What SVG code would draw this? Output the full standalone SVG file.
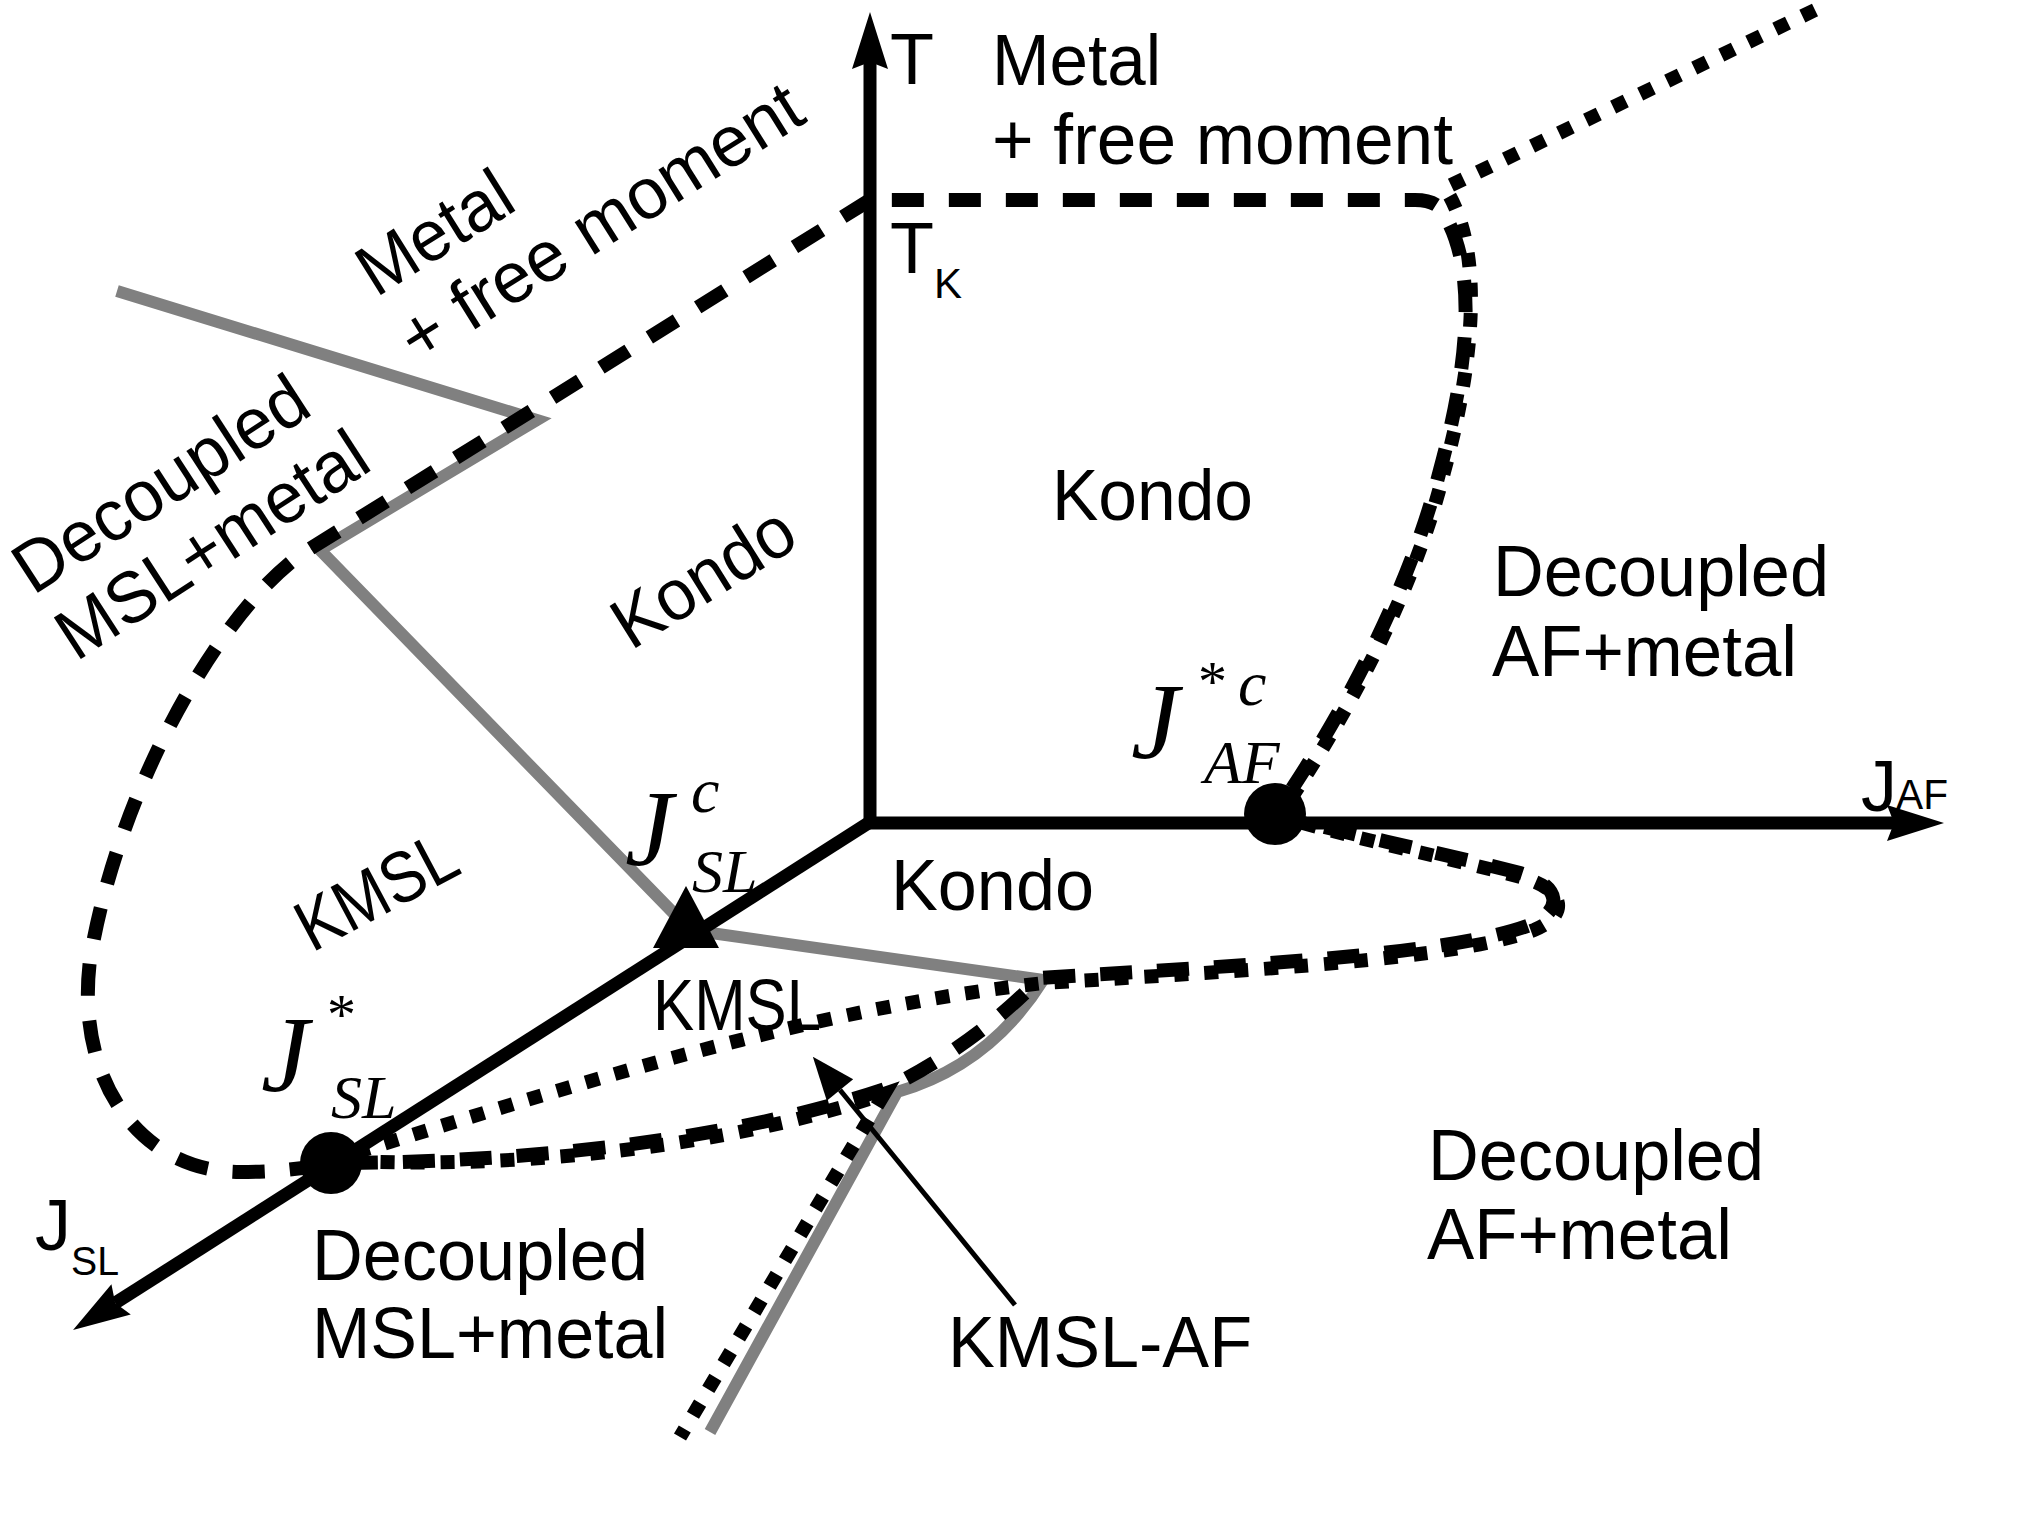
<svg xmlns="http://www.w3.org/2000/svg" width="2031" height="1523" viewBox="0 0 2031 1523">
<style>
.lbl{font-family:"Liberation Sans",Arial,sans-serif;font-size:72px;fill:#000}
.sub{font-family:"Liberation Sans",Arial,sans-serif;fill:#000}
.m{font-family:"Liberation Serif","Times New Roman",serif;font-style:italic;fill:#000}
.ast{font-family:"Liberation Serif","Times New Roman",serif;fill:#000;font-size:58px}
.axis{stroke:#000;stroke-width:13;fill:none}
.gray{stroke:#808080;stroke-width:12;fill:none;stroke-linejoin:miter}
.dash{stroke:#000;stroke-width:14;stroke-dasharray:32 25;fill:none}
.dot{stroke:#000;stroke-width:14;stroke-dasharray:14 16;fill:none}
.thin{stroke:#000;stroke-width:5;fill:none}
</style>
<defs>
<marker id="ah" viewBox="-58 -19 59 38" refX="-50" refY="0" markerWidth="59" markerHeight="38" markerUnits="userSpaceOnUse" orient="auto">
<path d="M0,0 L-57,-18 L-50,0 L-57,18 Z" fill="#000"/>
</marker>
<marker id="ah2" viewBox="-44 -18 45 36" refX="-43" refY="0" markerWidth="45" markerHeight="36" markerUnits="userSpaceOnUse" orient="auto">
<path d="M0,0 L-43,-17 L-43,17 Z" fill="#000"/>
</marker>
</defs>
<rect width="2031" height="1523" fill="#fff"/>
<g id="connectors">
<path class="gray" d="M117,291 L537,420 L320,550 L690,930 L1043,980 Q990,1065 897,1092 L710,1432"/>
<path class="dash" d="M870,200 L300,555 C218,615 118,790 90,960 C75,1080 140,1172 240,1172 C285,1172 310,1167 331,1163 C500,1163 720,1145 888,1088 Q975,1045 1040,978 C1250,965 1450,955 1530,925 C1565,910 1560,885 1520,873 C1450,855 1350,835 1275,814 C1340,720 1410,590 1440,470 C1470,360 1478,262 1440,208 Q1432,200 1415,200 Z"/>
<path class="dot" d="M1815,10 L1445,188 C1485,250 1474,362 1444,472 C1414,592 1344,722 1279,816 C1354,839 1454,859 1524,878 C1566,890 1569,916 1534,930 C1454,960 1254,970 1044,983 C800,1010 560,1090 331,1160 C500,1170 720,1150 884,1094 L680,1437"/>
<line class="axis" x1="870" y1="822" x2="870" y2="62" marker-end="url(#ah)"/>
<line class="axis" x1="864" y1="823" x2="1894" y2="823" marker-end="url(#ah)"/>
<line class="axis" x1="870" y1="822" x2="115.2" y2="1303.1" marker-end="url(#ah)"/>
<line class="thin" x1="1015" y1="1305" x2="840" y2="1090" marker-end="url(#ah2)"/>
</g>
<g id="node-JcSL-marker"><polygon points="686,886 653,948 719,948" fill="#000"/></g>
<g id="node-JstarSL-point"><circle cx="331" cy="1163" r="31" fill="#000"/></g>
<g id="node-JstarcAF-point"><circle cx="1275" cy="814" r="31" fill="#000"/></g>
<g id="label-T"><text class="lbl" x="890" y="84">T</text></g>
<g id="label-TK"><text class="lbl" x="890" y="273">T</text><text class="sub" x="934" y="298" font-size="42">K</text></g>
<g id="label-JAF"><text class="lbl" x="1861" y="811">J</text><text class="sub" x="1896" y="809" font-size="42" textLength="52" lengthAdjust="spacingAndGlyphs">AF</text></g>
<g id="label-JSL"><text class="lbl" x="35" y="1250">J</text><text class="sub" x="71" y="1275" font-size="40" textLength="48" lengthAdjust="spacingAndGlyphs">SL</text></g>
<g id="region-metal-right"><text class="lbl" x="992" y="85" textLength="169" lengthAdjust="spacingAndGlyphs">Metal</text><text class="lbl" x="992" y="164" textLength="461" lengthAdjust="spacingAndGlyphs">+ free moment</text></g>
<g id="region-metal-left" transform="rotate(-32 376 298)"><text class="lbl" x="376" y="298" textLength="169" lengthAdjust="spacingAndGlyphs">Metal</text><text class="lbl" x="376" y="377" textLength="461" lengthAdjust="spacingAndGlyphs">+ free moment</text></g>
<g id="region-decoupled-msl-left" transform="rotate(-33 33 596)"><text class="lbl" x="33" y="596" textLength="336" lengthAdjust="spacingAndGlyphs">Decoupled</text><text class="lbl" x="33" y="675" textLength="356" lengthAdjust="spacingAndGlyphs">MSL+metal</text></g>
<g id="region-kondo-upper"><text class="lbl" x="1052" y="520" textLength="201" lengthAdjust="spacingAndGlyphs">Kondo</text></g>
<g id="region-kondo-left"><text class="lbl" x="631" y="651" transform="rotate(-32 631 651)" textLength="201" lengthAdjust="spacingAndGlyphs">Kondo</text></g>
<g id="region-kmsl-left"><text class="lbl" x="312" y="953" transform="rotate(-28 312 953)" textLength="172" lengthAdjust="spacingAndGlyphs">KMSL</text></g>
<g id="region-decoupled-af-upper"><text class="lbl" x="1493" y="596" textLength="336" lengthAdjust="spacingAndGlyphs">Decoupled</text><text class="lbl" x="1492" y="676" textLength="305" lengthAdjust="spacingAndGlyphs">AF+metal</text></g>
<g id="region-kondo-lower"><text class="lbl" x="891" y="910" textLength="203" lengthAdjust="spacingAndGlyphs">Kondo</text></g>
<g id="region-kmsl-lower"><text class="lbl" x="653" y="1030" textLength="168" lengthAdjust="spacingAndGlyphs">KMSL</text></g>
<g id="region-kmsl-af"><text class="lbl" x="948" y="1367" textLength="304" lengthAdjust="spacingAndGlyphs">KMSL-AF</text></g>
<g id="region-decoupled-af-lower"><text class="lbl" x="1428" y="1180" textLength="336" lengthAdjust="spacingAndGlyphs">Decoupled</text><text class="lbl" x="1427" y="1259" textLength="305" lengthAdjust="spacingAndGlyphs">AF+metal</text></g>
<g id="region-decoupled-msl-lower"><text class="lbl" x="312" y="1280" textLength="336" lengthAdjust="spacingAndGlyphs">Decoupled</text><text class="lbl" x="312" y="1358" textLength="356" lengthAdjust="spacingAndGlyphs">MSL+metal</text></g>
<g id="label-JstarcAF"><text class="m" x="1131" y="758" font-size="108">J</text><text class="ast" x="1198" y="701">*</text><text class="m" x="1238" y="705" font-size="64">c</text><text class="m" x="1204" y="783" font-size="62">AF</text></g>
<g id="label-JcSL"><text class="m" x="625" y="865" font-size="108">J</text><text class="m" x="691" y="812" font-size="64">c</text><text class="m" x="692" y="892" font-size="62">SL</text></g>
<g id="label-JstarSL"><text class="m" x="261" y="1091" font-size="108">J</text><text class="ast" x="327" y="1034">*</text><text class="m" x="331" y="1118" font-size="62">SL</text></g>
</svg>
